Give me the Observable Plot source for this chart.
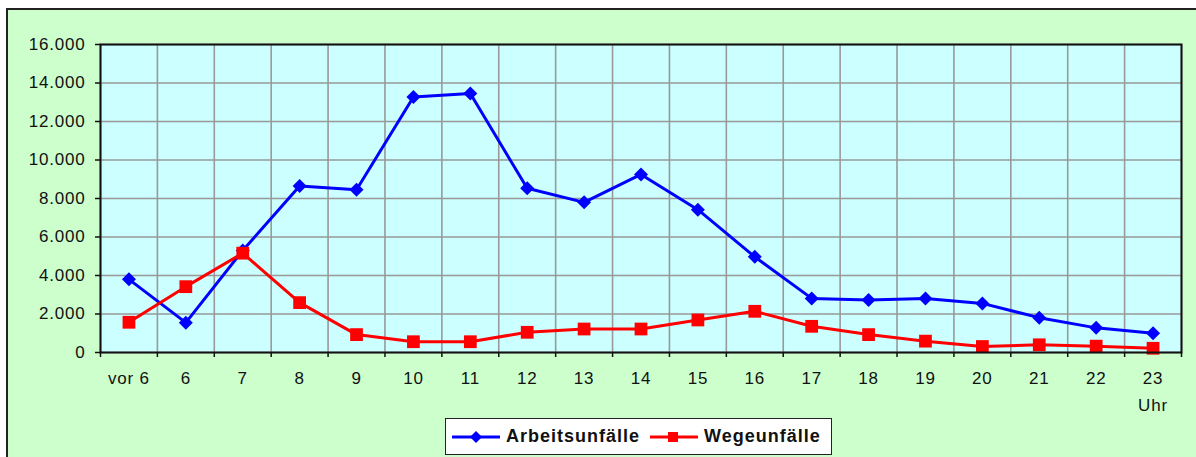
<!DOCTYPE html>
<html>
<head>
<meta charset="utf-8">
<script src="https://cdn.jsdelivr.net/npm/d3@7"></script>
<script src="https://cdn.jsdelivr.net/npm/@observablehq/plot@0.6"></script>
<style>
  html, body { margin: 0; padding: 0; background: #fff; }
  #wrap { position: relative; width: 1196px; height: 457px; overflow: hidden; font-family: "Liberation Sans", Arial, sans-serif; color: #111; }
  #bg { position: absolute; left: 6px; top: 8px; width: 1190px; height: 449px; box-sizing: border-box; background: #CCFFCC; border-top: 2px solid #222; border-left: 2px solid #222; }
  #chart { position: absolute; left: 0; top: 0; }
  #uhr { position: absolute; left: 1130px; top: 396px; width: 46px; text-align: center; font-size: 17px; letter-spacing: 0.8px; }
  #legend { position: absolute; left: 445px; top: 418px; width: 387px; height: 37px; box-sizing: border-box; background: #fff; border: 1px solid #222; display: flex; align-items: center; padding-left: 5px; font-weight: bold; font-size: 18px; letter-spacing: 1px; }
  #legend svg { display: block; }
</style>
</head>
<body>
<div id="wrap">
  <div id="bg"></div>
  <div id="chart"></div>
  <div id="uhr">Uhr</div>
  <div id="legend"></div>
</div>
<script>
const categories = ["vor 6","6","7","8","9","10","11","12","13","14","15","16","17","18","19","20","21","22","23"];
const arbeitsunfaelle = [3800,1550,5300,8650,8450,13270,13450,8530,7800,9250,7420,4970,2810,2730,2810,2550,1810,1280,1000];
const wegeunfaelle = [1570,3420,5160,2590,930,560,560,1050,1220,1220,1690,2140,1360,930,590,310,400,330,220];
const yTicks = [0,2000,4000,6000,8000,10000,12000,14000,16000];
const seriesNames = ["Arbeitsunfälle","Wegeunfälle"];
const seriesColors = ["#0000FF","#FF0000"];

const idx = categories.map((_, i) => i);
const bounds = d3.range(-0.5, categories.length, 1);
const rowsA = idx.map(i => ({i, v: arbeitsunfaelle[i]}));
const rowsW = idx.map(i => ({i, v: wegeunfaelle[i]}));
const fmt = d3.formatLocale({decimal: ",", thousands: ".", grouping: [3], currency: ["", "€"]}).format(",d");

const chart = Plot.plot({
  width: 1196,
  height: 457,
  marginLeft: 100,
  marginRight: 15,
  marginTop: 44,
  marginBottom: 105,
  style: {background: "transparent", fontFamily: "Liberation Sans, Arial, sans-serif", fontSize: "17px", color: "#111", overflow: "visible", letterSpacing: "0.8px"},
  x: {type: "linear", domain: [-0.5, categories.length - 0.5]},
  y: {domain: [0, 16000]},
  marks: [
    Plot.frame({fill: "#CCFFFF", stroke: null}),
    Plot.gridX(bounds, {stroke: "#999", strokeOpacity: 1, strokeWidth: 1.6}),
    Plot.gridY(yTicks, {stroke: "#999", strokeOpacity: 1, strokeWidth: 1.6}),
    Plot.axisY(yTicks, {tickSize: 5, tickPadding: 10, tickFormat: fmt, stroke: "#111", strokeWidth: 1.5, label: null}),
    Plot.axisX(bounds, {tickSize: 5, tickFormat: () => "", stroke: "#111", strokeWidth: 1.5, label: null}),
    Plot.axisX(idx, {tickSize: 0, tickPadding: 19, tickFormat: i => categories[i], label: null}),
    Plot.line(rowsA, {x: "i", y: "v", stroke: seriesColors[0], strokeWidth: 3}),
    Plot.dot(rowsA, {x: "i", y: "v", symbol: "diamond2", r: 6.3, fill: seriesColors[0], stroke: null}),
    Plot.line(rowsW, {x: "i", y: "v", stroke: seriesColors[1], strokeWidth: 3}),
    Plot.dot(rowsW, {x: "i", y: "v", symbol: "square", r: 7.2, fill: seriesColors[1], stroke: null}),
    Plot.frame({stroke: "#111", strokeWidth: 2})
  ]
});
document.getElementById("chart").appendChild(chart);

// legend
const legend = document.getElementById("legend");
const sym = [
  c => `<polygon points="25,2 31,8 25,14 19,8" fill="${c}"/>`,
  c => `<rect x="19" y="3" width="10" height="10" fill="${c}"/>`
];
seriesNames.forEach((name, k) => {
  const item = document.createElement("div");
  item.style.display = "flex";
  item.style.alignItems = "center";
  item.style.marginRight = k === 0 ? "9px" : "0";
  item.innerHTML = `<svg width="50" height="16"><line x1="1" y1="8" x2="49" y2="8" stroke="${seriesColors[k]}" stroke-width="3"/>${sym[k](seriesColors[k])}</svg><span style="margin-left:5px">${name}</span>`;
  legend.appendChild(item);
});
</script>
</body>
</html>
